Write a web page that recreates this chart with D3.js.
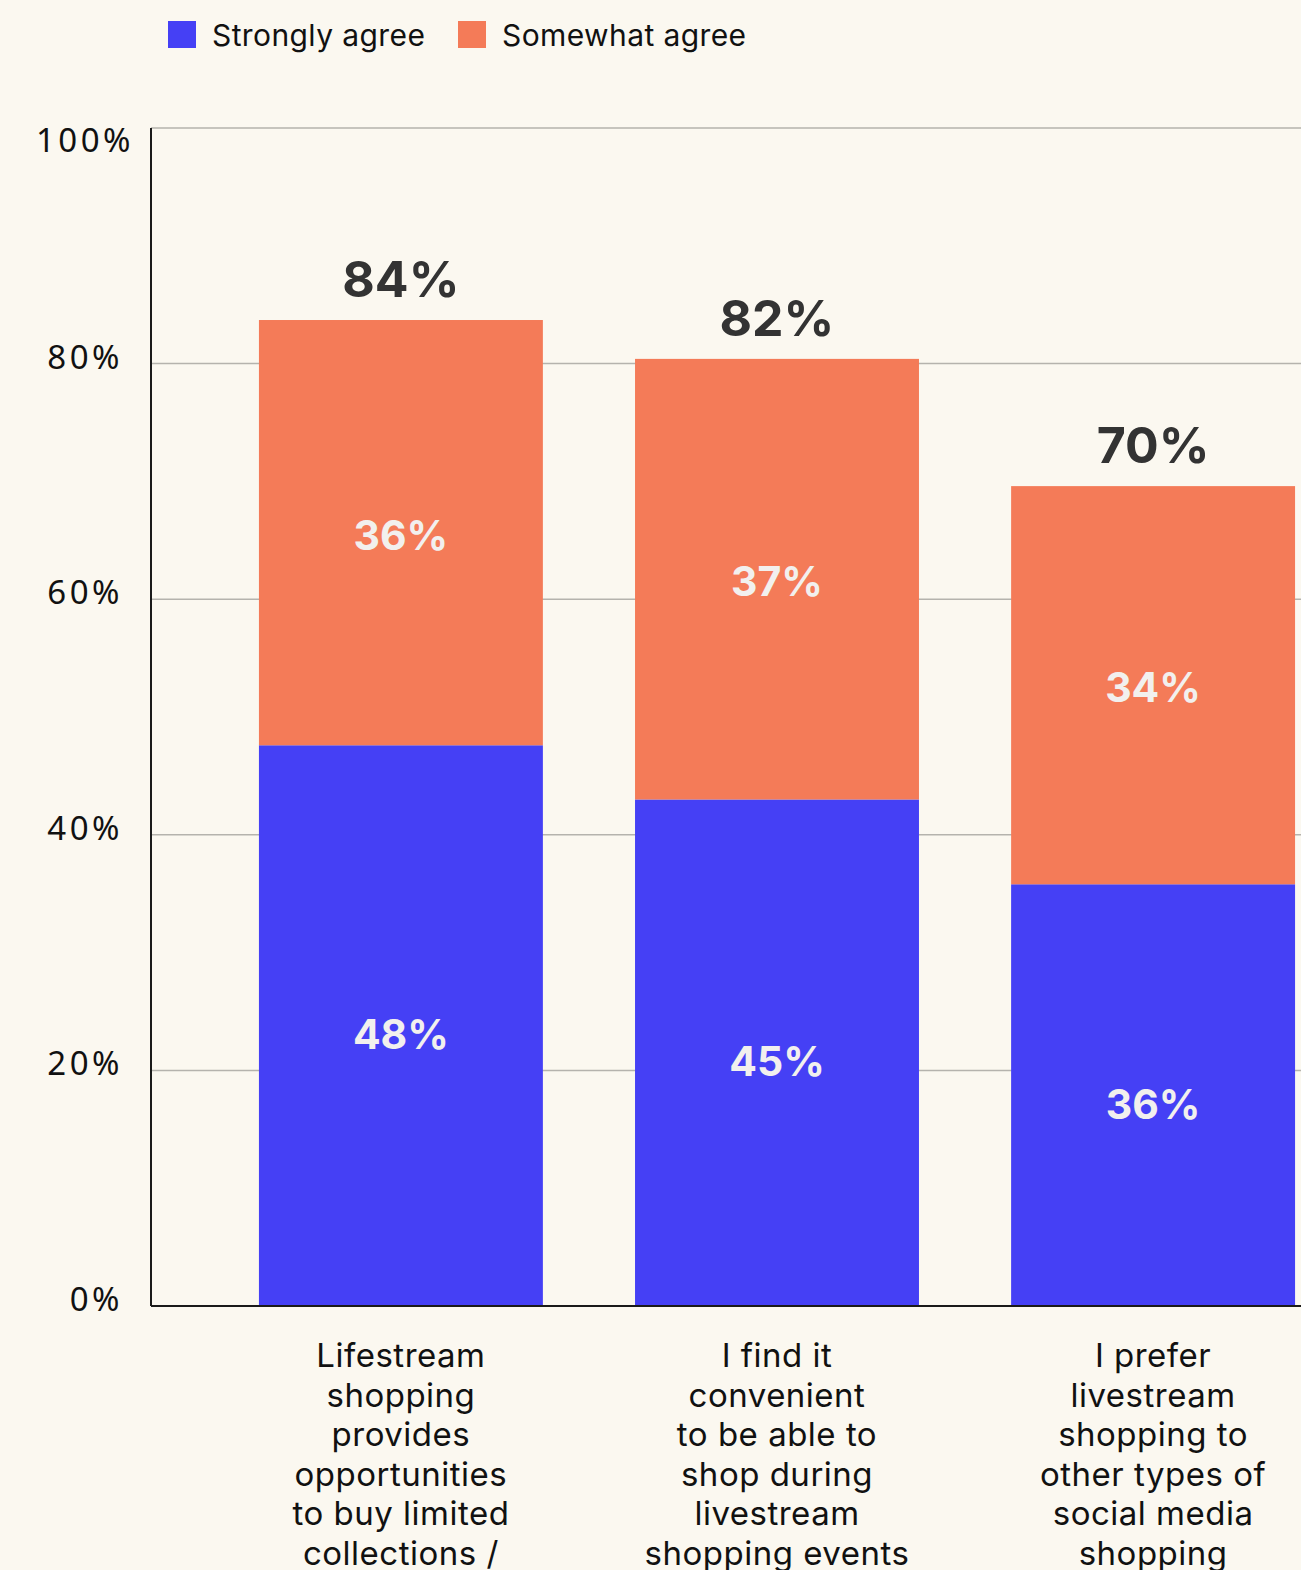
<!DOCTYPE html>
<html>
<head>
<meta charset="utf-8">
<script src="https://cdn.jsdelivr.net/npm/d3@7"></script>
<style>
  html, body { margin: 0; padding: 0; background: #fbf8f0; overflow: hidden; }
  svg { display: block; }
</style>
</head>
<body>
<svg id="chart" width="1301" height="1570"></svg>
<script>
// data
let categories = [
  ['Lifestream', 'shopping', 'provides', 'opportunities', 'to buy limited', 'collections /'],
  ['I find it', 'convenient', 'to be able to', 'shop during', 'livestream', 'shopping events'],
  ['I prefer', 'livestream', 'shopping to', 'other types of', 'social media', 'shopping']
]
let strongly = [47.6, 43.0, 35.8]
let somewhat = [36.1, 37.4, 33.8]
let stronglyLabels = ['48%', '45%', '36%']
let somewhatLabels = ['36%', '37%', '34%']
let totalLabels = ['84%', '82%', '70%']
let yTicks = [0, 20, 40, 60, 80, 100]
let seriesNames = ['Strongly agree', 'Somewhat agree']
let colors = ['#4540f5', '#f47b58']

let svg = d3.select('#chart')
let plotLeft = 151, plotTop = 128, plotBottom = 1306

let x = d3.scaleBand()
  .domain(d3.range(categories.length))
  .range([plotLeft, 1403])
  .paddingInner(0.245)
  .paddingOuter(0.287)

let y = d3.scaleLinear().domain([0, 100]).range([plotBottom, plotTop])

// gridlines
svg.append('g')
  .selectAll('line')
  .data(yTicks.filter(d => d > 0))
  .enter()
  .append('line')
  .attr('x1', plotLeft).attr('x2', 1301)
  .attr('y1', d => y(d)).attr('y2', d => y(d))
  .attr('stroke', '#b5b3ad')
  .attr('stroke-width', 1.5)

// y tick labels
svg.append('g')
  .selectAll('text')
  .data(yTicks)
  .enter()
  .append('text')
  .attr('x', d => d === 100 ? 134 : 123)
  .attr('y', d => d === 100 ? y(d) + 24 : y(d) + 5)
  .attr('text-anchor', 'end')
  .attr('font-family', 'Noto Sans, sans-serif')
  .attr('font-size', 33)
  .attr('letter-spacing', 3.5)
  .attr('fill', '#111')
  .text(d => d + '%')

// bars
let bars = svg.append('g')
bars.selectAll('.strong')
  .data(strongly)
  .enter()
  .append('rect')
  .attr('class', 'strong')
  .attr('x', (d, i) => x(i))
  .attr('width', x.bandwidth())
  .attr('y', d => y(d))
  .attr('height', d => y(0) - y(d))
  .attr('fill', colors[0])

bars.selectAll('.some')
  .data(somewhat)
  .enter()
  .append('rect')
  .attr('class', 'some')
  .attr('x', (d, i) => x(i))
  .attr('width', x.bandwidth())
  .attr('y', (d, i) => y(strongly[i] + d))
  .attr('height', (d, i) => y(strongly[i]) - y(strongly[i] + d))
  .attr('fill', colors[1])

// axis lines
svg.append('line')
  .attr('x1', plotLeft).attr('x2', plotLeft)
  .attr('y1', plotTop).attr('y2', plotBottom)
  .attr('stroke', '#1a1a1a').attr('stroke-width', 2)
svg.append('line')
  .attr('x1', plotLeft).attr('x2', 1301)
  .attr('y1', plotBottom).attr('y2', plotBottom)
  .attr('stroke', '#1a1a1a').attr('stroke-width', 2)

// labels inside the segments
let inner = svg.append('g')
  .attr('font-family', 'Inter, sans-serif')
  .attr('font-weight', 700)
  .attr('font-size', 41)
  .attr('fill', '#f2f0ee')
  .attr('text-anchor', 'middle')

inner.selectAll('.sl')
  .data(strongly)
  .enter()
  .append('text')
  .attr('x', (d, i) => x(i) + x.bandwidth() / 2)
  .attr('y', d => (y(0) + y(d)) / 2)
  .attr('dy', '0.57em')
  .text((d, i) => stronglyLabels[i])

inner.selectAll('.wl')
  .data(somewhat)
  .enter()
  .append('text')
  .attr('x', (d, i) => x(i) + x.bandwidth() / 2)
  .attr('y', (d, i) => (y(strongly[i]) + y(strongly[i] + d)) / 2)
  .attr('dy', '0.42em')
  .text((d, i) => somewhatLabels[i])

// totals above bars
svg.append('g')
  .selectAll('text')
  .data(somewhat)
  .enter()
  .append('text')
  .attr('x', (d, i) => x(i) + x.bandwidth() / 2)
  .attr('y', (d, i) => y(strongly[i] + d) - 23)
  .attr('text-anchor', 'middle')
  .attr('font-family', 'Inter, sans-serif')
  .attr('font-weight', 700)
  .attr('font-size', 50)
  .attr('fill', '#333333')
  .text((d, i) => totalLabels[i])

// category labels
let catText = svg.append('g')
  .selectAll('text')
  .data(categories)
  .enter()
  .append('text')
  .attr('text-anchor', 'middle')
  .attr('font-family', 'Inter, sans-serif')
  .attr('font-size', 33)
  .attr('letter-spacing', 0.5)
  .attr('fill', '#111')

catText.selectAll('tspan')
  .data((d, i) => d.map(line => ({ line, i })))
  .enter()
  .append('tspan')
  .attr('x', d => x(d.i) + x.bandwidth() / 2)
  .attr('y', (d, j) => 1367 + j * 39.6)
  .text(d => d.line)

// legend
let legend = svg.append('g')
  .selectAll('g')
  .data(seriesNames)
  .enter()
  .append('g')
  .attr('transform', (d, i) => 'translate(' + [168, 458][i] + ',21)')

legend.append('rect')
  .attr('width', 28).attr('height', 27)
  .attr('fill', (d, i) => colors[i])

legend.append('text')
  .attr('x', 44)
  .attr('y', 25)
  .attr('font-family', 'Inter, sans-serif')
  .attr('font-size', 30)
  .attr('letter-spacing', 0.4)
  .attr('fill', '#111')
  .text(d => d)
</script>
</body>
</html>
